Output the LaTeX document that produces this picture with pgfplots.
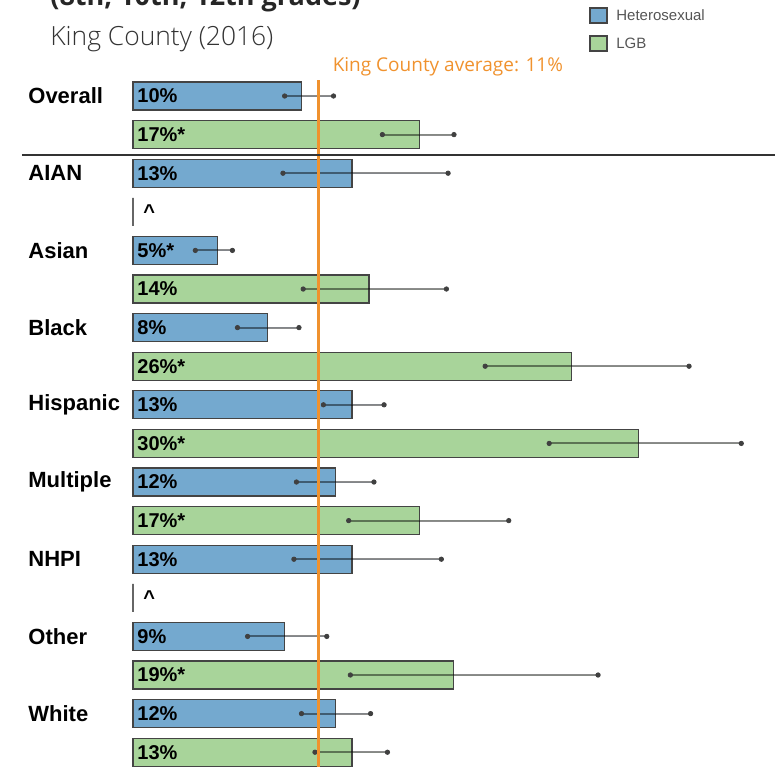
\documentclass[border=0pt]{standalone}
\usepackage{pgfplots}
\pgfplotsset{compat=1.18}
\usepackage{fontspec}
\setmainfont{Liberation Sans}
\newfontfamily\segoe{Open Sans}
\newfontfamily\segoelight{Open Sans Light}
\definecolor{hetblue}{HTML}{74A9CF}
\definecolor{lgbgreen}{HTML}{A8D49A}
\definecolor{outl}{HTML}{444444}
\definecolor{avgorange}{HTML}{F0922E}
\definecolor{legtext}{HTML}{555555}

\begin{document}
\begin{tikzpicture}
\useasboundingbox (0pt,0pt) rectangle (389pt,-383.5pt);

% title block (top line is cut off in the reference)
\node[anchor=base west, inner sep=0pt, font=\segoe\bfseries\fontsize{13.5}{16}\selectfont, text=black!85] at (25pt,-2.5pt) {(8th, 10th, 12th grades)};
\node[anchor=west, inner sep=0pt, font=\segoelight\fontsize{13.2}{16}\selectfont, text=black!80] at (25pt,-19.5pt) {King County (2016)};

% legend
\draw[outl, line width=0.6pt, fill=hetblue] (295pt,-4pt) rectangle (303.5pt,-11.5pt);
\node[anchor=west, inner sep=0pt, font=\fontsize{7.5}{9}\selectfont, text=legtext] at (308pt,-7.75pt) {Heterosexual};
\draw[outl, line width=0.6pt, fill=lgbgreen] (295pt,-18pt) rectangle (303.5pt,-25.5pt);
\node[anchor=west, inner sep=0pt, font=\fontsize{7.5}{9}\selectfont, text=legtext] at (308pt,-21.75pt) {LGB};

\begin{axis}[
    at={(66.5pt,-28.7pt)}, anchor=north west,
    scale only axis,
    width=320.15pt, height=355.12pt,
    xmin=0, xmax=38,
    ymin=-1, ymax=17.4,
    y dir=reverse,
    clip=false,
    axis line style={draw=none},
    xtick=\empty,
    ytick={0,2,4,6,8,10,12,14,16},
    yticklabels={Overall,AIAN,Asian,Black,Hispanic,Multiple,NHPI,Other,White},
    major tick length=0pt,
    yticklabel style={anchor=west, inner sep=0pt, xshift=-52.5pt, font=\bfseries\fontsize{11}{13}\selectfont},
    bar width=0.725,
]
% heterosexual
\addplot[xbar, bar shift=0pt, fill=hetblue, draw=outl, line width=0.6pt,
  error bars/.cd, x dir=both, x explicit, error mark=*,
  error bar style={line width=1pt, draw=black, draw opacity=0.45},
  error mark options={mark size=1.1pt, draw=black!75, fill=black!75, draw opacity=1}]
  coordinates {
  (10,0)  += (1.9,0)  -= (1.0,0)
  (13,2)  += (5.7,0)  -= (4.1,0)
  (5,4)   += (0.9,0)  -= (1.3,0)
  (8,6)   += (1.85,0) -= (1.8,0)
  (13,8)  += (1.9,0)  -= (1.7,0)
  (12,10) += (2.3,0)  -= (2.3,0)
  (13,12) += (5.3,0)  -= (3.45,0)
  (9,14)  += (2.5,0)  -= (2.2,0)
  (12,16) += (2.1,0)  -= (2.0,0)
  };
% LGB
\addplot[xbar, bar shift=0pt, fill=lgbgreen, draw=outl, line width=0.6pt,
  error bars/.cd, x dir=both, x explicit, error mark=*,
  error bar style={line width=1pt, draw=black, draw opacity=0.45},
  error mark options={mark size=1.1pt, draw=black!75, fill=black!75, draw opacity=1}]
  coordinates {
  (17,1)  += (2.05,0) -= (2.2,0)
  (14,5)  += (4.6,0)  -= (3.9,0)
  (26,7)  += (7.0,0)  -= (5.1,0)
  (30,9)  += (6.1,0)  -= (5.3,0)
  (17,11) += (5.3,0)  -= (4.2,0)
  (19,15) += (8.6,0)  -= (6.1,0)
  (13,17) += (2.1,0)  -= (2.2,0)
  };
% suppressed LGB values
\addplot[xbar, bar shift=0pt, fill=none, draw=black!60, line width=0.7pt]
  coordinates {(0,3) (0,13)};
% county average
\addplot[avgorange, line width=1.5pt] coordinates {(11,-0.41) (11,17.4)};
\node[anchor=west, inner sep=0pt, font=\segoe\fontsize{9.5}{11}\selectfont, text=avgorange] at (axis cs:11,-0.75) [xshift=7pt] {King County average: 11\%};
% separator under Overall
\draw[black!80, line width=0.6pt] (axis cs:-6.59,1.53) -- (axis cs:38.1,1.53);
% value labels
\addplot[only marks, mark=none, nodes near coords, point meta=explicit symbolic,
  nodes near coords style={anchor=west, inner sep=0pt, xshift=2pt, font=\bfseries\fontsize{10}{12}\selectfont, text=black}]
  coordinates {
  (0,0) [10\%] (0,1) [17\%*] (0,2) [13\%] (0,3) [\hspace{3pt}\textasciicircum]
  (0,4) [5\%*] (0,5) [14\%] (0,6) [8\%] (0,7) [26\%*]
  (0,8) [13\%] (0,9) [30\%*] (0,10) [12\%] (0,11) [17\%*]
  (0,12) [13\%] (0,13) [\hspace{3pt}\textasciicircum] (0,14) [9\%] (0,15) [19\%*]
  (0,16) [12\%] (0,17) [13\%]
  };
\end{axis}
\end{tikzpicture}
\end{document}
